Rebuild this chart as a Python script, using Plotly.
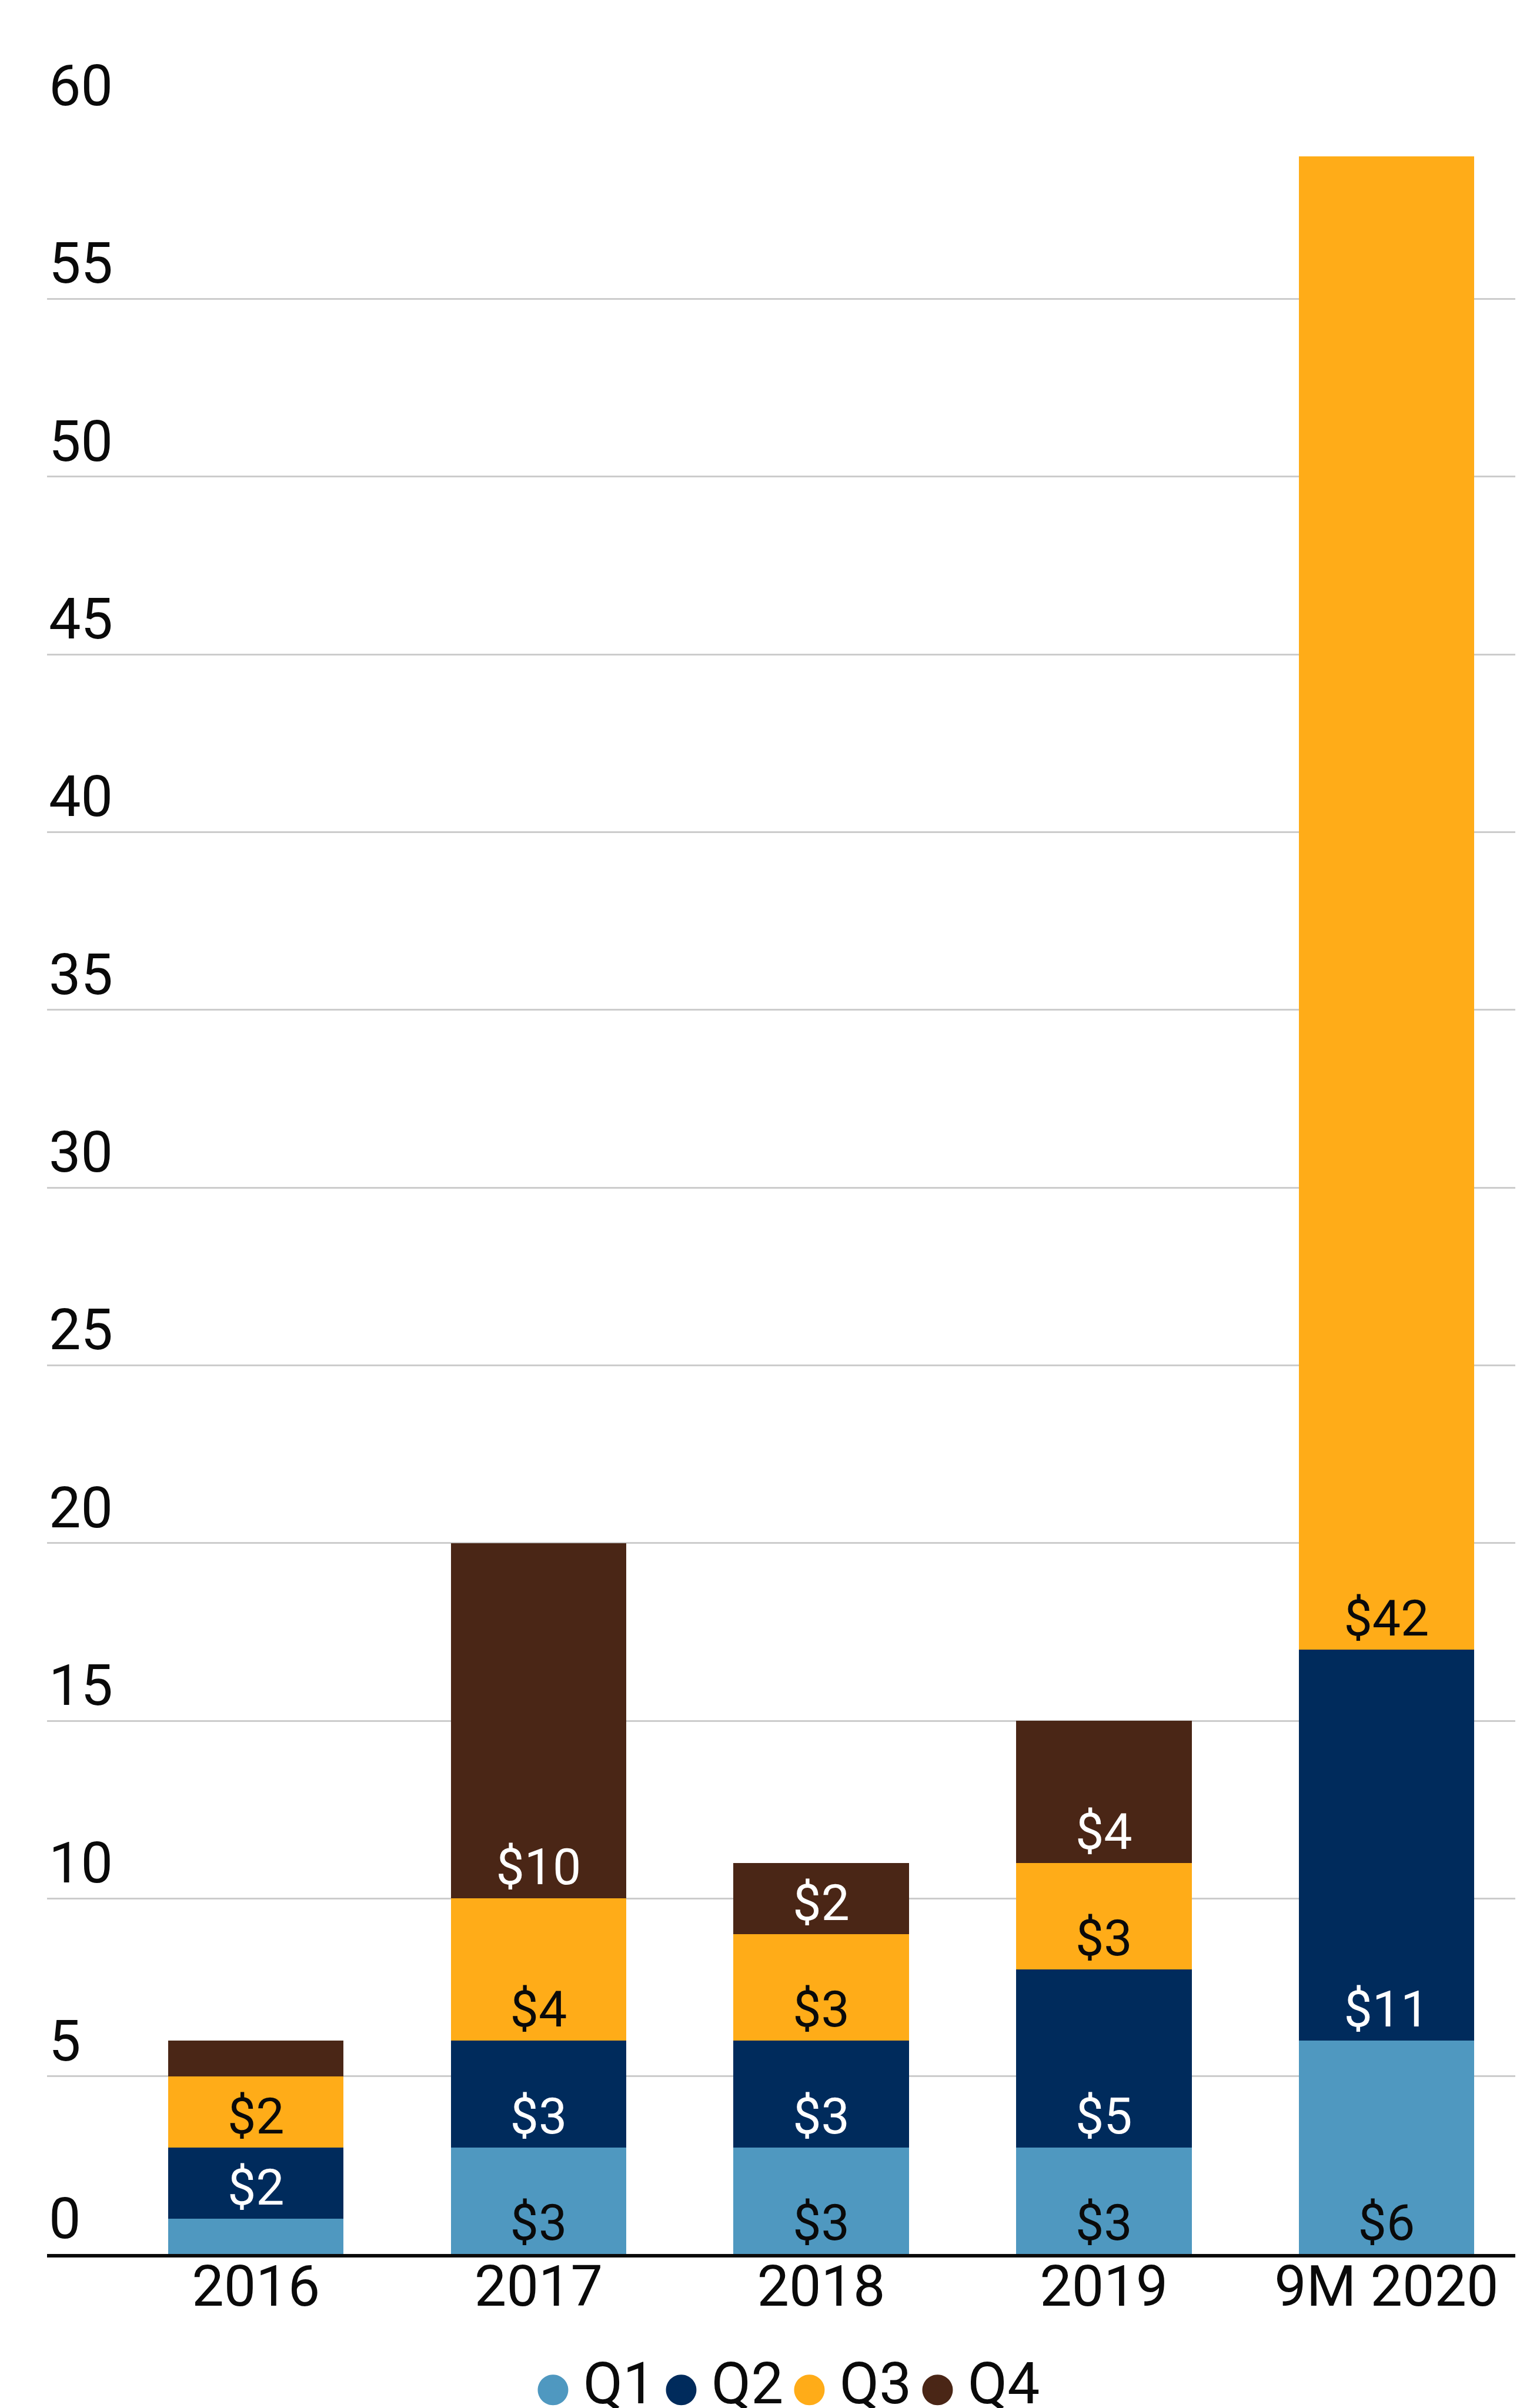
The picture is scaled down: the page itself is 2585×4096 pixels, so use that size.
import plotly.graph_objects as go

# ---- data ----
categories = ["2016", "2017", "2018", "2019", "9M 2020"]
q1_values = [1, 3, 3, 3, 6]
q2_values = [2, 3, 3, 5, 11]
q3_values = [2, 4, 3, 3, 42]
q4_values = [1, 10, 2, 4, None]
series_names = ["Q1", "Q2", "Q3", "Q4"]
y_tick_values = [0, 5, 10, 15, 20, 25, 30, 35, 40, 45, 50, 55, 60]

# ---- styles ----
colors = ["#4F98C0", "#002B5C", "#FFAC18", "#4A2616"]
label_colors = ["#0A0A0A", "#FFFFFF", "#0A0A0A", "#FFFFFF"]
legend_widths = [173, 173, 173, None]
FONT = "Roboto"
TICK_SIZE = 97
LABEL_SIZE = 86
LEGEND_SIZE = 98

fig = go.Figure()

all_series = [q1_values, q2_values, q3_values, q4_values]
for name, vals, col, tcol in zip(series_names, all_series, colors, label_colors):
    fig.add_trace(go.Bar(
        x=categories,
        y=vals,
        name=name,
        marker=dict(color=col, line=dict(width=0)),
        text=["" if v is None else f"${v}" for v in vals],
        textposition="inside",
        insidetextanchor="start",
        textangle=0,
        insidetextfont=dict(family=FONT, size=LABEL_SIZE, color=tcol),
        width=0.621,
        showlegend=False,
        hoverinfo="skip",
    ))

# legend entries with large round swatches
for name, col, lw in zip(series_names, colors, legend_widths):
    fig.add_trace(go.Scatter(
        x=[None], y=[None],
        mode="markers",
        marker=dict(color="rgba(0,0,0,0)", size=2, line=dict(width=0)),
        name=(f"<span style='color:{col};font-family:DejaVu Sans;font-size:68px;"
              f"baseline-shift:5px'>● </span>{name}"),
        legendwidth=lw,
        showlegend=True,
        hoverinfo="skip",
    ))

fig.update_layout(
    template="none",
    width=2585,
    height=4096,
    margin=dict(l=72, r=0, t=198, b=270, pad=0, autoexpand=False),
    barmode="stack",
    plot_bgcolor="white",
    paper_bgcolor="white",
    font=dict(family=FONT, size=TICK_SIZE, color="#0A0A0A"),
    uniformtext=dict(mode="hide", minsize=LABEL_SIZE),
    hovermode=False,
    xaxis=dict(
        type="category",
        range=[-0.739, 4.489],
        automargin=False,
        showgrid=False,
        zeroline=False,
        showline=True,
        linecolor="#0A0A0A",
        linewidth=6,
        ticks="",
        ticklabelstandoff=-34,
        tickfont=dict(family=FONT, size=TICK_SIZE, color="#0A0A0A"),
    ),
    yaxis=dict(
        range=[0, 60],
        automargin=False,
        tickvals=y_tick_values,
        ticktext=[str(v) for v in y_tick_values],
        showgrid=True,
        gridcolor="#CCCCCC",
        gridwidth=2.5,
        zeroline=False,
        showline=False,
        ticks="",
        ticklabelposition="inside top",
        ticklabeloverflow="allow",
        ticklabelshift=7,
        tickfont=dict(family=FONT, size=TICK_SIZE, color="#0A0A0A"),
    ),
    legend=dict(
        orientation="h",
        traceorder="normal",
        xref="container",
        yref="container",
        x=0.3338,
        y=0.0303,
        xanchor="left",
        yanchor="top",
        font=dict(family=FONT, size=LEGEND_SIZE, color="#0A0A0A"),
        bgcolor="rgba(0,0,0,0)",
        borderwidth=0,
    ),
)

fig.write_html("out.html")
